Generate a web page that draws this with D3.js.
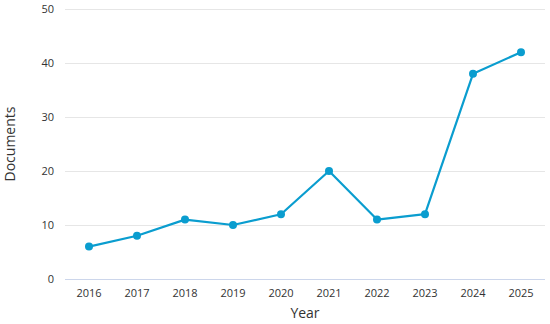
<!DOCTYPE html>
<html><head><meta charset="utf-8">
<script src="https://cdn.jsdelivr.net/npm/d3@7"></script>
<style>body{margin:0;background:#fff;} svg{display:block;font-family:"Open Sans","DejaVu Sans",sans-serif;}</style>
</head><body><svg id="c" width="550" height="324"></svg>
<script>
const years = ["2016","2017","2018","2019","2020","2021","2022","2023","2024","2025"];
const documents = [6, 8, 11, 10, 12, 20, 11, 12, 38, 42];
const yTicks = [0, 10, 20, 30, 40, 50];
const xTitle = "Year";
const yTitle = "Documents";

const svg = d3.select("#c");
const m = {l: 65, r: 5, t: 9, b: 45};
const W = 550, H = 324;
const x = d3.scaleBand().domain(years).range([m.l, W - m.r]);
const y = d3.scaleLinear().domain([0, 50]).range([H - m.b, m.t]);

// grid
svg.append("g").selectAll("line").data(yTicks).join("line")
  .attr("x1", m.l).attr("x2", W - m.r)
  .attr("y1", d => y(d) + 0.5).attr("y2", d => y(d) + 0.5)
  .attr("stroke", d => d === 0 ? "#ccd6eb" : "#e6e6e6").attr("stroke-width", 1);

// y axis labels
const ya = svg.append("g").attr("transform", `translate(${m.l - 11},0)`)
  .call(d3.axisLeft(y).tickValues(yTicks).tickSize(0).tickPadding(0));
ya.select(".domain").remove();
ya.selectAll("text").attr("font-size", 11).attr("fill", "#333").attr("font-family", "Open Sans, DejaVu Sans, sans-serif").attr("dy", "0.32em");

// x axis labels
const xa = svg.append("g").attr("transform", `translate(0,${H - m.b})`)
  .call(d3.axisBottom(x).tickSize(0).tickPadding(10));
xa.select(".domain").remove();
xa.selectAll("text").attr("font-size", 11).attr("fill", "#333").attr("font-family", "Open Sans, DejaVu Sans, sans-serif");

// titles
svg.append("text").attr("x", (m.l + W - m.r) / 2).attr("y", 318)
  .attr("text-anchor", "middle").attr("font-size", 14).attr("fill", "#333").text(xTitle);
svg.append("text").attr("transform", `translate(15,${(m.t + H - m.b) / 2}) rotate(-90)`)
  .attr("text-anchor", "middle").attr("font-size", 14).attr("fill", "#333").text(yTitle);

const color = "#0a9dcf";
const line = d3.line().x((d, i) => x(years[i]) + x.bandwidth() / 2).y(d => y(d));
svg.append("path").datum(documents).attr("d", line)
  .attr("fill", "none").attr("stroke", color).attr("stroke-width", 2.2).attr("stroke-linejoin", "round");
svg.append("g").selectAll("circle").data(documents).join("circle")
  .attr("cx", (d, i) => x(years[i]) + x.bandwidth() / 2).attr("cy", d => y(d))
  .attr("r", 4).attr("fill", color);
</script></body></html>
